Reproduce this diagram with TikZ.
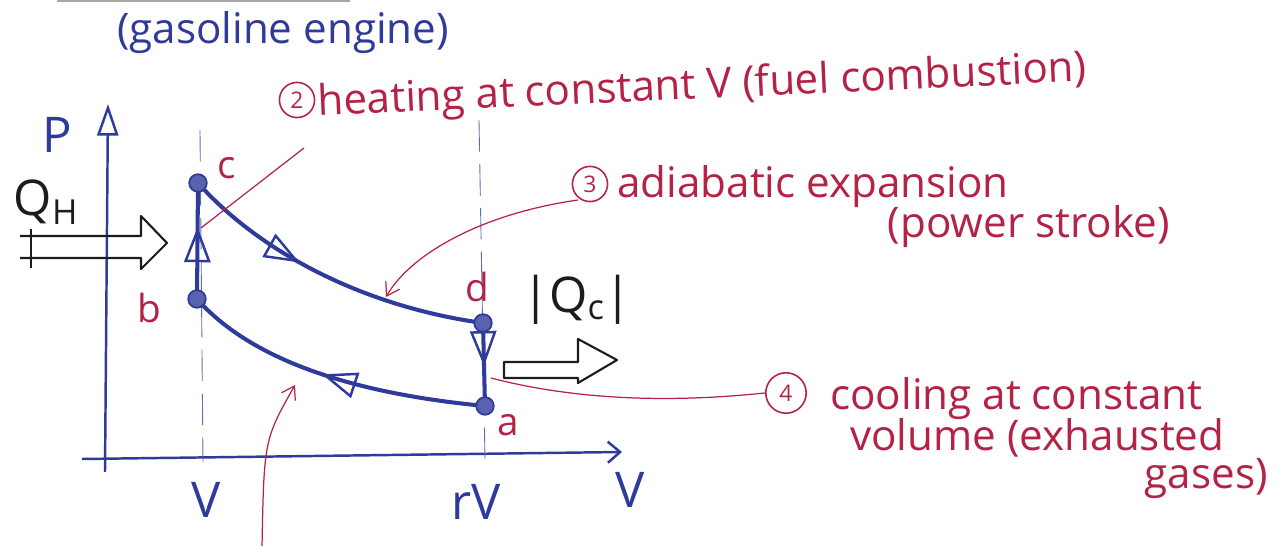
\documentclass[tikz,border=0pt]{standalone}
\usepackage{fontspec}
\setmainfont{Open Sans}
\usepackage{tikz}
\usetikzlibrary{positioning,arrows.meta,decorations.markings}
\definecolor{penBlue}{HTML}{2E3B9A}
\definecolor{penRed}{HTML}{B42245}
\definecolor{penInk}{HTML}{1C1C1C}

\begin{document}
\begin{tikzpicture}[x=0.02cm,y=-0.02cm,
    axis/.style={draw=penBlue,line width=1.4pt},
    process/.style={draw=penBlue,line width=2.3pt},
    guide/.style={draw=penBlue!75,line width=0.5pt,dash pattern=on 18pt off 7pt},
    state/.style={circle,draw=penBlue,fill=penBlue!80,line width=1pt,inner sep=0pt,minimum size=10pt},
    statelbl/.style={text=penRed,font=\fontsize{22}{24}\selectfont,inner sep=0pt},
    axislbl/.style={text=penBlue,font=\fontsize{28}{30}\selectfont,inner sep=0pt},
    heatlbl/.style={text=penInk,font=\fontsize{28}{30}\selectfont,inner sep=0pt},
    note/.style={text=penRed,font=\fontsize{24}{26}\selectfont,inner sep=0pt},
    num/.style={circle,draw=penRed,text=penRed,line width=0.9pt,inner sep=1pt,minimum size=20pt,font=\fontsize{13}{13}\selectfont},
    leader/.style={draw=penRed,line width=0.7pt},
    heat/.style={draw=penInk,line width=1.2pt,line join=round},
    midarrow/.style={postaction={decorate},decoration={markings,mark=at position #1 with
      {\arrow[penBlue,line width=1.4pt]{Triangle[open,length=20pt,width=15pt]}}}}]
  \useasboundingbox (0,0) rectangle (1279,546);
  \draw[gray!70,line width=1pt] (57,1) -- (350,1);
  % title
  \node[axislbl,font=\fontsize{24}{26}\selectfont] (title) at (283,33) {(gasoline engine)};
  % axes
  \coordinate (pbot) at (105,472);
  \coordinate (ptop) at (108,104);
  \coordinate (vleft) at (82,459);
  \coordinate (vright) at (622,452);
  \draw[axis,-{Triangle[open,length=18pt,width=12pt]}] (pbot) -- (ptop);
  \draw[axis,-{Straight Barb[length=7pt,width=12pt]}] (vleft) -- (vright);
  \node[axislbl] (plbl) at (57,135) {P};
  \node[axislbl] (vlbl) at (630,490) {V};
  % guide lines at V and rV
  \coordinate (g1top) at (200,130);
  \coordinate (g1bot) at (203,462);
  \coordinate (g2top) at (479,120);
  \coordinate (g2bot) at (485,460);
  \draw[guide] (g1top) -- (g1bot);
  \draw[guide] (g2top) -- (g2bot);
  \node[axislbl] (vtick) at (206,500) {V};
  \node[axislbl] (rvtick) at (476,502) {rV};
  % the cycle
  \coordinate (a) at (485,406);
  \coordinate (b) at (197,299);
  \coordinate (c) at (198,183);
  \coordinate (d) at (483,323);
  \draw[process,midarrow=0.62] (b) -- (c);
  \draw[process,midarrow=0.4] (c) .. controls (258,250) and (360,306) .. (d);
  \draw[process,midarrow=0.52] (d) -- (a);
  \draw[process,midarrow=0.53] (a) .. controls (380,396) and (260,370) .. (b);
  \foreach \s in {a,b,c,d}
    \node[state] (\s dot) at (\s) {};
  \node[statelbl] (clbl) at (227,168) {c};
  \node[statelbl] (blbl) at (149,308) {b};
  \node[statelbl] (dlbl) at (477,287) {d};
  \node[statelbl] (albl) at (508,425) {a};
  % heat in and out
  \draw[heat] (20,236) -- (141,236) -- (141,216) -- (167,243) -- (141,269) -- (141,258) -- (20,258);
  \draw[heat] (31,229) -- (31,268);
  \node[heatlbl] (qh) at (46,202) {Q\textsubscript{H}};
  \draw[heat] (504,362) -- (578,362) -- (578,339) -- (617,360) -- (578,383) -- (578,378) -- (504,378) -- cycle;
  \node[heatlbl] (qc) at (577,300) {|Q\textsubscript{c}|};
  % notes
  \node[num] (n2) at (297,100) {2};
  \node[note,anchor=base west,rotate=2.6] (t2) at (318,116) {heating at constant V (fuel combustion)};
  \coordinate (l2a) at (304,148);
  \coordinate (l2b) at (201,228);
  \draw[leader] (l2a) -- (l2b);
  \node[num] (n3) at (590,184) {3};
  \node[note,anchor=base west] (t3) at (617,198) {adiabatic expansion};
  \node[note,anchor=base east] (t3b) at (1170,238) {(power stroke)};
  \coordinate (l3a) at (578,200);
  \coordinate (l3b) at (386,297);
  \draw[leader,-{Straight Barb[length=7pt,width=9pt]}] (l3a) .. controls (480,214) and (410,255) .. (l3b);
  \node[num,minimum size=23pt] (n4) at (786,393) {4};
  \node[note,anchor=base west] (t4) at (830,410) {cooling at constant};
  \node[note,anchor=base west] (t4b) at (850,451) {volume (exhausted};
  \node[note,anchor=base east] (t4c) at (1268,489) {gases)};
  \coordinate (l4a) at (491,378);
  \draw[leader] (l4a) .. controls (560,396) and (650,405) .. (n4.west);
  \coordinate (l1a) at (262,548);
  \coordinate (l1b) at (295,385);
  \draw[leader,-{Straight Barb[length=7pt,width=9pt]}] (l1a) .. controls (264,440) .. (l1b);
\end{tikzpicture}
\end{document}
